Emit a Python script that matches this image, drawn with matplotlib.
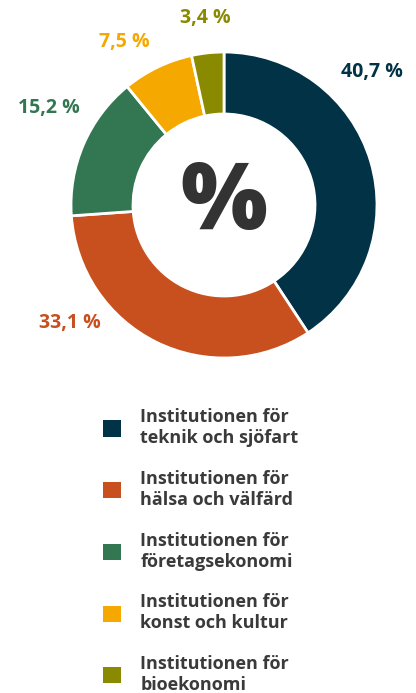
import matplotlib.pyplot as plt

W, H = 416, 693

labels = [
    "Institutionen för\nteknik och sjöfart",
    "Institutionen för\nhälsa och välfärd",
    "Institutionen för\nföretagsekonomi",
    "Institutionen för\nkonst och kultur",
    "Institutionen för\nbioekonomi",
]
values = [40.7, 33.1, 15.2, 7.5, 3.4]
value_text = ["40,7 %", "33,1 %", "15,2 %", "7,5 %", "3,4 %"]
colors = ["#023246", "#c84f1e", "#327652", "#f5a800", "#8a8a00"]
# label anchor positions in pixels (x, y from top)
label_pos = [(372, 72), (70, 323), (49, 108), (124, 42), (205, 18)]

plt.rcParams["font.family"] = ["Open Sans", "DejaVu Sans"]

fig = plt.figure(figsize=(W / 100, H / 100), dpi=100)
ax = fig.add_axes([0, 0, 1, 1])

cx, cy, r = 224, H - 205, 153
wedges, _ = ax.pie(values, colors=colors, startangle=90, counterclock=False,
                   center=(cx, cy), radius=r, frame=True,
                   wedgeprops=dict(width=r - 91, edgecolor="white", linewidth=2))
ax.set_xlim(0, W)
ax.set_ylim(0, H)
ax.set_aspect("equal")
ax.axis("off")

for txt, (x, y), c in zip(value_text, label_pos, colors):
    ax.text(x, H - y, txt, color=c, fontsize=14, fontweight="bold",
            ha="center", va="center")

ax.text(cx, cy, "%", color="#333333", fontsize=66, fontweight="heavy",
        ha="center", va="center")

leg = ax.legend(wedges, labels, loc="upper left", bbox_to_anchor=(87 / W, 1 - 392 / H),
                frameon=False, labelcolor="#3a3a3a",
                handlelength=1.0, handleheight=1.0, handletextpad=1.05,
                labelspacing=1.27, prop=dict(weight="bold", size=13))
for h in leg.legend_handles:
    h.set_edgecolor("none")

fig.savefig("out.png", dpi=100)
